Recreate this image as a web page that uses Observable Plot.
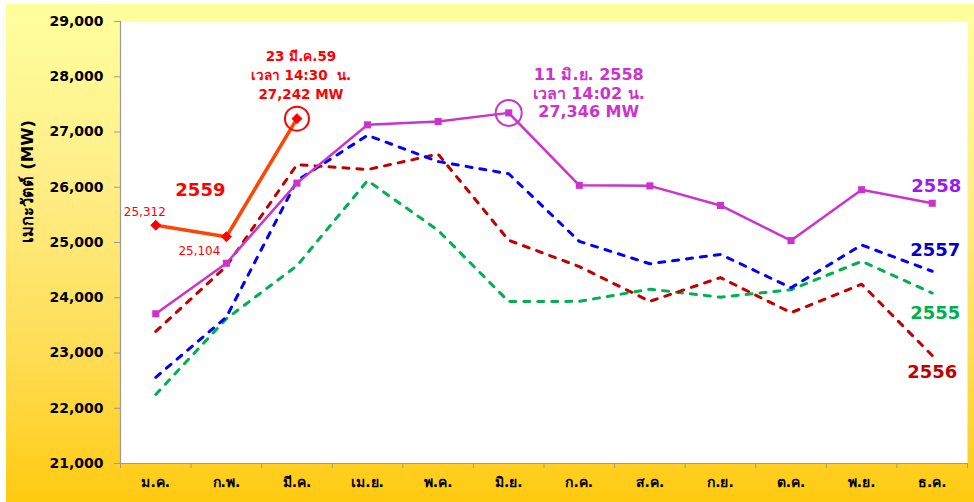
<!DOCTYPE html>
<html>
<head>
<meta charset="utf-8">
<script src="https://cdn.jsdelivr.net/npm/d3@7"></script>
<script src="https://cdn.jsdelivr.net/npm/@observablehq/plot@0.6"></script>
<style>
  html, body { margin: 0; padding: 0; background: #ffffff; }
  #wrap { position: relative; width: 974px; height: 502px; overflow: hidden; }
  #panel { position: absolute; left: 6px; top: 4px; width: 968px; height: 498px;
           background: linear-gradient(to bottom, #FFFF9E 0%, #FFEE88 35%, #FFDD55 70%, #FFCA10 100%); }
  #chart { position: absolute; left: 0; top: 0; }
</style>
</head>
<body>
<div id="wrap"><div id="panel"></div><div id="chart"></div></div>
<script>
// ---- data ----
const months = ["ม.ค.", "ก.พ.", "มี.ค.", "เม.ย.", "พ.ค.", "มิ.ย.", "ก.ค.", "ส.ค.", "ก.ย.", "ต.ค.", "พ.ย.", "ธ.ค."];
const v2555 = [22250, 23620, 24580, 26120, 25220, 23930, 23935, 24155, 24010, 24145, 24660, 24085];
const v2556 = [23390, 24570, 26410, 26320, 26600, 25040, 24565, 23935, 24365, 23730, 24245, 22955];
const v2557 = [22560, 23650, 26120, 26940, 26465, 26245, 25020, 24615, 24785, 24180, 24955, 24480];
const v2558 = [23710, 24625, 26075, 27130, 27190, 27346, 26035, 26025, 25670, 25035, 25955, 25710];
const v2559 = [25312, 25104, 27242];
const yTicks = [21000, 22000, 23000, 24000, 25000, 26000, 27000, 28000, 29000];
const yTitle = "เมกะวัตต์ (MW)";
const note2559 = "23 มี.ค.59\nเวลา 14:30  น.\n27,242 MW";
const note2558 = "11 มิ.ย. 2558\nเวลา 14:02 น.\n27,346 MW";

// ---- build tables ----
const toRows = (vals, year) => vals.map((v, i) => ({i, v, year}));
const s2555 = toRows(v2555, "2555");
const s2556 = toRows(v2556, "2556");
const s2557 = toRows(v2557, "2557");
const s2558 = toRows(v2558, "2558");
const s2559 = toRows(v2559, "2559");
const last = arr => [arr[arr.length - 1]];
const idx = months.map((m, i) => i);
const bounds = d3.range(-0.5, months.length, 1);
const peak2559 = s2559.reduce((a, b) => (b.v > a.v ? b : a));
const peak2558 = s2558.reduce((a, b) => (b.v > a.v ? b : a));

const FONT = "'DejaVu Sans', Verdana, Tahoma, sans-serif";
const dash = "6,8";

const chart = Plot.plot({
  width: 974,
  height: 502,
  marginLeft: 120,
  marginRight: 7,
  marginTop: 21,
  marginBottom: 39,
  style: {background: "transparent", fontFamily: FONT, color: "#000", overflow: "visible"},
  x: {domain: [-0.5, months.length - 0.5], axis: null},
  y: {domain: [21000, 29000], axis: null},
  marks: [
    Plot.frame({fill: "#ffffff", stroke: null}),
    Plot.ruleY([21000], {stroke: "#9a9a9a", strokeWidth: 1.2}),
    Plot.ruleX([-0.5], {stroke: "#9a9a9a", strokeWidth: 1.2}),
    Plot.axisY({ticks: yTicks, tickFormat: d3.format(","), tickSize: 6, tickPadding: 11,
                fontSize: 14, fontWeight: "bold", stroke: "#9a9a9a", label: null}),
    Plot.axisX({ticks: bounds, tickFormat: () => "", tickSize: 5, stroke: "#9a9a9a", label: null}),
    Plot.axisX({ticks: idx, tickFormat: i => months[i], tickSize: 0, tickPadding: 14,
                fontSize: 14, fontWeight: "bold", label: null}),
    Plot.text([yTitle], {frameAnchor: "left", rotate: -90, dx: -93, dy: 0,
                fontSize: 16.5, fontWeight: "bold", fill: "#000"}),

    // dashed series
    Plot.line(s2555, {x: "i", y: "v", stroke: "#00B050", strokeWidth: 3, strokeDasharray: dash}),
    Plot.line(s2556, {x: "i", y: "v", stroke: "#C00000", strokeWidth: 3, strokeDasharray: dash}),
    Plot.line(s2557, {x: "i", y: "v", stroke: "#0000FF", strokeWidth: 3, strokeDasharray: dash}),

    // 2558
    Plot.line(s2558, {x: "i", y: "v", stroke: "#CC33CC", strokeWidth: 2.5}),
    Plot.dot(s2558, {x: "i", y: "v", symbol: "square", r: 4, fill: "#CC33CC"}),

    // 2559
    Plot.line(s2559, {x: "i", y: "v", stroke: "#FF4500", strokeWidth: 3.5}),
    Plot.dot(s2559, {x: "i", y: "v", symbol: "diamond2", r: 4.5, fill: "#FF0000", stroke: "#FF0000", strokeWidth: 1}),

    // highlight circles
    Plot.dot([peak2559], {x: "i", y: "v", r: 12, stroke: "#FF0000", strokeWidth: 2, fill: "none"}),
    Plot.dot([peak2558], {x: "i", y: "v", r: 13, stroke: "#CC33CC", strokeWidth: 2, fill: "none"}),

    // value labels for 2559
    Plot.text([s2559[0]], {x: "i", y: "v", text: d => d3.format(",")(d.v), dx: -11, dy: -13,
                fontSize: 12, fill: "#FF0000"}),
    Plot.text([s2559[1]], {x: "i", y: "v", text: d => d3.format(",")(d.v), dx: -27, dy: 14,
                fontSize: 12, fill: "#FF0000"}),
    Plot.text([s2559[1]], {x: "i", y: "v", text: "year", dx: -26, dy: -47,
                fontSize: 18, fontWeight: "bold", fill: "#FF0000"}),

    // annotations
    Plot.text([peak2559], {x: "i", y: "v", text: () => note2559, dx: 4, dy: -45,
                lineAnchor: "middle", lineHeight: 1.4, fontSize: 13.5, fontWeight: "bold", fill: "#FF0000"}),
    Plot.text([peak2558], {x: "i", y: "v", text: () => note2558, dx: 80, dy: -20,
                lineAnchor: "middle", lineHeight: 1.15, fontSize: 16, fontWeight: "bold", fill: "#CC33CC"}),

    // end labels
    Plot.text(last(s2558), {x: "i", y: "v", text: "year", dx: 4, dy: -17, fontSize: 18, fontWeight: "bold", fill: "#9A1AF0"}),
    Plot.text(last(s2557), {x: "i", y: "v", text: "year", dx: 3, dy: -21, fontSize: 18, fontWeight: "bold", fill: "#0000CC"}),
    Plot.text(last(s2555), {x: "i", y: "v", text: "year", dx: 3, dy: 20, fontSize: 18, fontWeight: "bold", fill: "#00B050"}),
    Plot.text(last(s2556), {x: "i", y: "v", text: "year", dx: 0, dy: 17, fontSize: 18, fontWeight: "bold", fill: "#C00000"})
  ]
});
document.getElementById("chart").appendChild(chart);
</script>
</body>
</html>
